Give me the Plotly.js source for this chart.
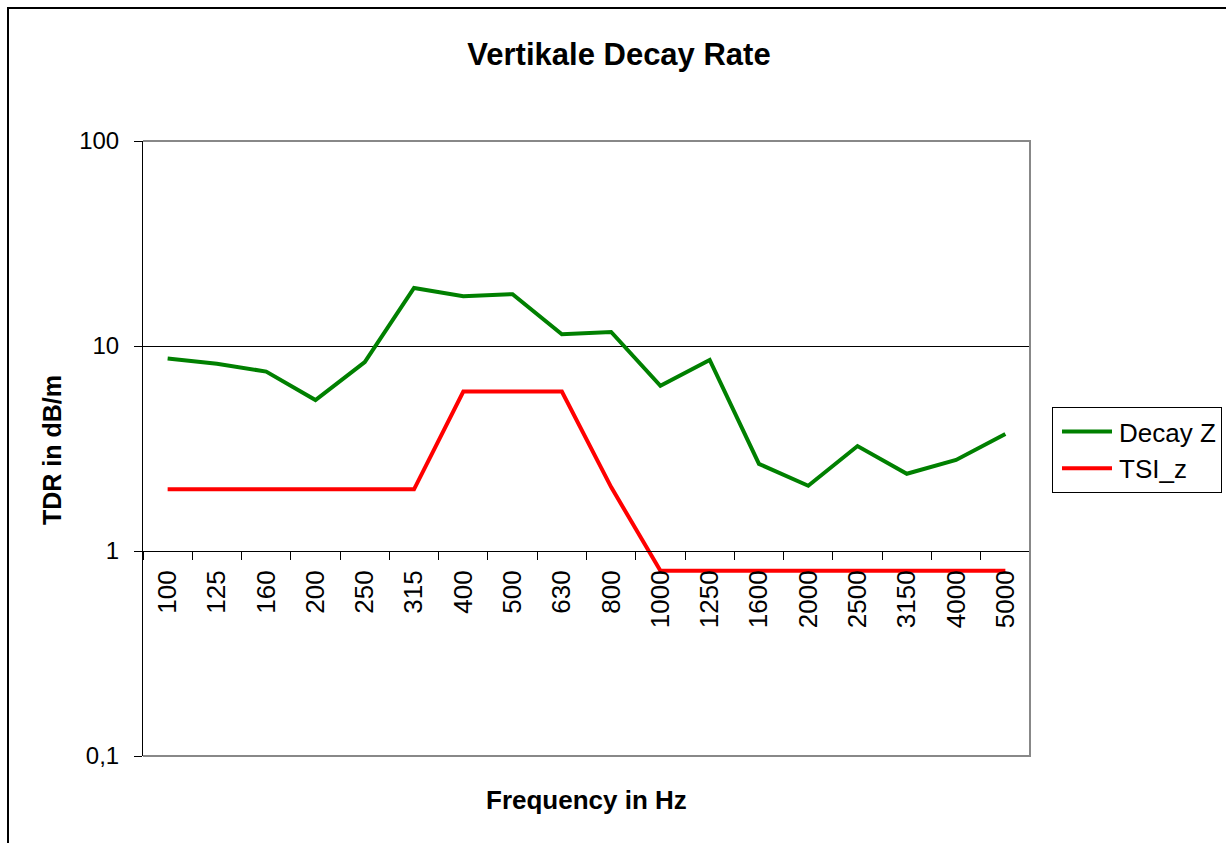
<!DOCTYPE html>
<html>
<head>
<meta charset="utf-8">
<script src="https://cdn.plot.ly/plotly-3.0.1.min.js"></script>
<style>
html,body{margin:0;padding:0;background:#fff;}
#chart{width:1226px;height:843px;}
</style>
</head>
<body>
<div id="chart"></div>
<script>
const frequencies = ['100','125','160','200','250','315','400','500','630','800','1000','1250','1600','2000','2500','3150','4000','5000'];
const decayZ = [8.7, 8.2, 7.5, 5.45, 8.35, 19.2, 17.5, 17.9, 11.4, 11.7, 6.4, 8.55, 2.66, 2.08, 3.25, 2.38, 2.78, 3.72];
const tsiZ = [2, 2, 2, 2, 2, 2, 6, 6, 6, 2.05, 0.8, 0.8, 0.8, 0.8, 0.8, 0.8, 0.8, 0.8];
const yTickVals = [0.1, 1, 10, 100];
const yTickText = ['0,1', '1', '10', '100'];

const FONT = '"Liberation Sans", Arial, sans-serif';

const traces = [
  {x: frequencies, y: decayZ, name: 'Decay Z', type: 'scatter', mode: 'lines',
   line: {color: '#008000', width: 4}},
  {x: frequencies, y: tsiZ, name: 'TSI_z', type: 'scatter', mode: 'lines',
   line: {color: '#FF0000', width: 4}}
];

const L = 143, R = 1030, T = 141, B = 756;
const pw = R - L, ph = B - T;
const px = v => (v - L) / pw;
const py = v => (B - v) / ph;

const layout = {
  width: 1226, height: 843,
  margin: {l: L, r: 1226 - R, t: T, b: 843 - B, pad: 0, autoexpand: false},
  paper_bgcolor: '#fff', plot_bgcolor: '#fff',
  separators: ',.',
  font: {family: FONT, color: '#000'},
  showlegend: true,
  title: {text: '<b>Vertikale Decay Rate</b>', font: {family: FONT, size: 31, color: '#000'},
          xref: 'container', yref: 'container', x: 619 / 1226, y: 1 - 54 / 843,
          xanchor: 'center', yanchor: 'middle'},
  xaxis: {
    type: 'category', range: [-0.5, 17.5],
    anchor: 'free', position: 1 / 3,
    showline: true, linecolor: '#000', linewidth: 1,
    ticks: 'outside', tickson: 'boundaries', ticklen: 8, tickcolor: '#000', tickwidth: 1,
    tickangle: -90, tickfont: {family: FONT, size: 26, color: '#000'},
    ticklabelstandoff: 8, automargin: false,
    showgrid: false, zeroline: false, fixedrange: true
  },
  yaxis: {
    type: 'log', range: [-1, 2],
    showline: true, linecolor: '#000', linewidth: 1,
    ticks: 'outside', ticklen: 8, tickcolor: '#000', tickwidth: 1,
    tickvals: yTickVals, ticktext: yTickText,
    tickfont: {family: FONT, size: 24, color: '#000'},
    ticklabelstandoff: 10, automargin: false,
    showgrid: true, gridcolor: '#000', gridwidth: 1,
    zeroline: false, fixedrange: true
  },
  legend: {
    x: px(1052), y: py(407), xanchor: 'left', yanchor: 'top',
    xref: 'paper', yref: 'paper',
    bordercolor: '#000', borderwidth: 1, bgcolor: '#fff',
    font: {family: FONT, size: 26, color: '#000'},
    itemwidth: 56,
    tracegroupgap: 0
  },
  annotations: [
    {text: '<b>Frequency in Hz</b>', xref: 'paper', yref: 'paper', x: 0.5, y: py(800),
     xanchor: 'center', yanchor: 'middle', showarrow: false,
     font: {family: FONT, size: 26, color: '#000'}},
    {text: '<b>TDR in dB/m</b>', xref: 'paper', yref: 'paper', x: px(52), y: py(450),
     xanchor: 'center', yanchor: 'middle', showarrow: false, textangle: -90,
     font: {family: FONT, size: 25, color: '#000'}}
  ],
  shapes: [
    {type: 'path', xref: 'paper', yref: 'paper', layer: 'above',
     path: 'M0,1 L1,1 L1,0 L0,0', line: {color: '#888', width: 2}},
    {type: 'path', xref: 'paper', yref: 'paper', layer: 'above',
     path: 'M' + px(8) + ',' + py(900) + ' L' + px(8) + ',' + py(8) + ' L' + px(1300) + ',' + py(8),
     line: {color: '#000', width: 2}}
  ]
};

Plotly.newPlot('chart', traces, layout, {displayModeBar: false, staticPlot: true}).then(gd => {
  // lengthen legend line samples to match the reference's longer swatches
  gd.querySelectorAll('.legend .legendlines path').forEach(p => p.setAttribute('d', 'M9,0h50'));
});
</script>
</body>
</html>
